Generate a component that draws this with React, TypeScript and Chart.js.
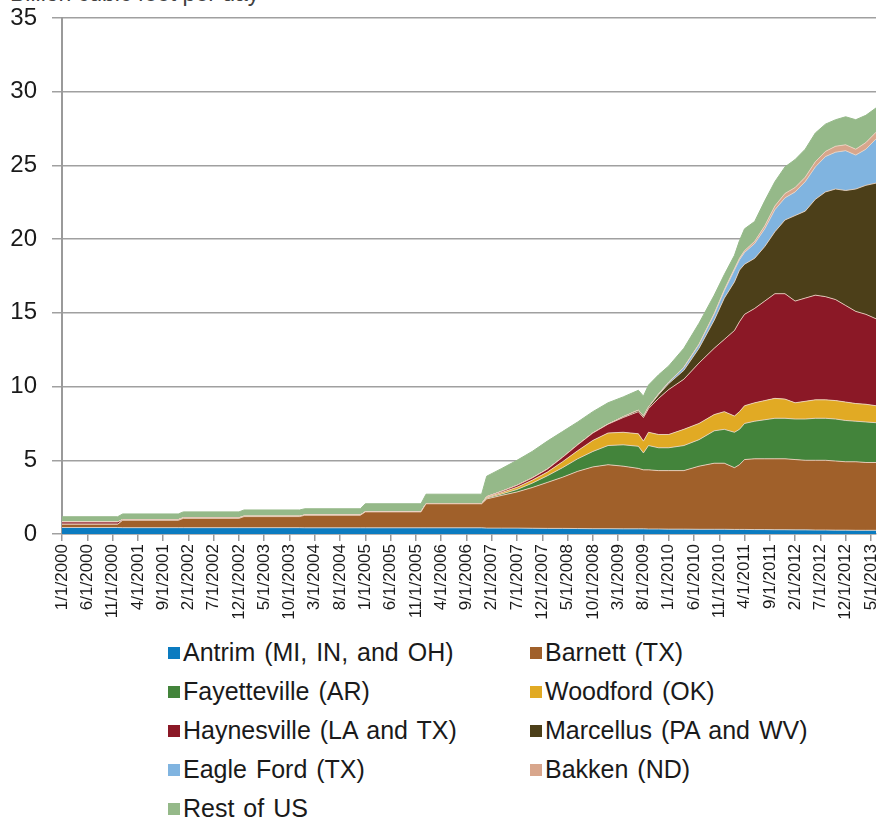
import React, { useEffect, useRef } from "react";
import { Chart, registerables } from "chart.js";

Chart.register(...registerables);

// Sample dates (month starts) at which the series values were read
const sampleDates = [
  "1/1/2000", "12/1/2000", "1/1/2001", "12/1/2001", "1/1/2002", "12/1/2002",
  "1/1/2003", "12/1/2003", "1/1/2004", "12/1/2004", "1/1/2005", "12/1/2005",
  "1/1/2006", "12/1/2006", "1/1/2007", "4/1/2007", "7/1/2007", "10/1/2007",
  "1/1/2008", "4/1/2008", "7/1/2008", "10/1/2008", "1/1/2009", "4/1/2009",
  "7/1/2009", "8/1/2009", "9/1/2009", "11/1/2009", "1/1/2010", "4/1/2010",
  "7/1/2010", "10/1/2010", "12/1/2010", "2/1/2011", "3/1/2011", "4/1/2011",
  "6/1/2011", "8/1/2011", "10/1/2011", "12/1/2011", "2/1/2012", "4/1/2012",
  "6/1/2012", "8/1/2012", "10/1/2012", "12/1/2012", "2/1/2013", "4/1/2013",
  "6/1/2013",
];

const tickLabels = [
  "1/1/2000", "6/1/2000", "11/1/2000", "4/1/2001", "9/1/2001", "2/1/2002",
  "7/1/2002", "12/1/2002", "5/1/2003", "10/1/2003", "3/1/2004", "8/1/2004",
  "1/1/2005", "6/1/2005", "11/1/2005", "4/1/2006", "9/1/2006", "2/1/2007",
  "7/1/2007", "12/1/2007", "5/1/2008", "10/1/2008", "3/1/2009", "8/1/2009",
  "1/1/2010", "6/1/2010", "11/1/2010", "4/1/2011", "9/1/2011", "2/1/2012",
  "7/1/2012", "12/1/2012", "5/1/2013",
];

const yTicks = [0, 5, 10, 15, 20, 25, 30, 35];

// Billion cubic feet per day
const antrim = [
  0.44, 0.44, 0.43, 0.43, 0.43, 0.43, 0.43, 0.43, 0.42, 0.42, 0.42, 0.42, 0.42, 0.42,
  0.40, 0.40, 0.40, 0.39, 0.38, 0.38, 0.37, 0.36, 0.36, 0.35,
  0.35, 0.35, 0.34, 0.34, 0.33, 0.33, 0.32, 0.32, 0.32, 0.31,
  0.31, 0.31, 0.30, 0.30, 0.29, 0.29, 0.28, 0.28, 0.27, 0.27,
  0.26, 0.26, 0.25, 0.25, 0.25,
];
const barnett = [
  0.22, 0.22, 0.50, 0.50, 0.63, 0.63, 0.75, 0.75, 0.85, 0.85, 1.08, 1.08, 1.63, 1.63,
  1.98, 2.22, 2.45, 2.76, 3.12, 3.47, 3.88, 4.19, 4.34, 4.25,
  4.10, 4.00, 4.01, 3.96, 3.97, 3.97, 4.28, 4.48, 4.48, 4.19,
  4.39, 4.74, 4.80, 4.80, 4.81, 4.81, 4.77, 4.72, 4.73, 4.73,
  4.69, 4.64, 4.65, 4.60, 4.60,
];
const fayetteville = [
  0, 0, 0, 0, 0, 0, 0, 0, 0, 0, 0, 0, 0, 0,
  0.06, 0.10, 0.17, 0.30, 0.45, 0.65, 0.85, 1.05, 1.30, 1.45,
  1.50, 1.15, 1.65, 1.55, 1.55, 1.70, 1.80, 2.20, 2.30, 2.40,
  2.40, 2.45, 2.55, 2.65, 2.75, 2.75, 2.75, 2.80, 2.85, 2.85,
  2.85, 2.80, 2.75, 2.75, 2.70,
];
const woodford = [
  0, 0, 0, 0, 0, 0, 0, 0, 0, 0, 0, 0, 0, 0,
  0.05, 0.10, 0.15, 0.20, 0.25, 0.40, 0.55, 0.75, 0.85, 0.85,
  0.85, 0.80, 0.90, 0.90, 0.90, 1.10, 1.10, 1.10, 1.20, 1.10,
  1.20, 1.20, 1.25, 1.30, 1.35, 1.30, 1.10, 1.20, 1.25, 1.25,
  1.25, 1.25, 1.20, 1.20, 1.15,
];
const haynesville = [
  0.16, 0.16, 0.05, 0.05, 0.04, 0.04, 0.03, 0.03, 0.02, 0.02, 0.01, 0.01, 0, 0,
  0.04, 0.08, 0.13, 0.15, 0.20, 0.30, 0.40, 0.50, 0.60, 1.00,
  1.50, 1.60, 1.60, 2.45, 3.05, 3.40, 4.10, 4.50, 4.90, 5.80,
  6.10, 6.20, 6.40, 6.75, 7.10, 7.15, 6.90, 7.00, 7.10, 7.00,
  6.85, 6.55, 6.25, 6.10, 5.90,
];
const marcellus = [
  0, 0, 0, 0, 0, 0, 0, 0, 0, 0, 0, 0, 0, 0,
  0, 0, 0, 0, 0, 0, 0, 0, 0, 0.05,
  0.10, 0.10, 0.10, 0.25, 0.40, 0.60, 1.00, 1.90, 2.80, 3.30,
  3.50, 3.40, 3.40, 3.70, 4.20, 5.00, 5.80, 5.90, 6.50, 7.10,
  7.50, 7.80, 8.30, 8.75, 9.20,
];
const eagleFord = [
  0, 0, 0, 0, 0, 0, 0, 0, 0, 0, 0, 0, 0, 0,
  0, 0, 0, 0, 0, 0, 0, 0, 0, 0,
  0, 0, 0, 0.05, 0.10, 0.20, 0.25, 0.40, 0.50, 0.80,
  0.70, 0.80, 1.00, 1.20, 1.50, 1.50, 1.60, 2.00, 2.20, 2.40,
  2.50, 2.70, 2.30, 2.45, 3.00,
];
const bakken = [
  0, 0, 0, 0, 0, 0, 0, 0, 0, 0, 0, 0, 0, 0,
  0, 0, 0, 0, 0, 0, 0, 0, 0, 0,
  0, 0, 0, 0, 0, 0.02, 0.03, 0.05, 0.07, 0.10,
  0.10, 0.12, 0.15, 0.20, 0.25, 0.30, 0.30, 0.30, 0.35, 0.35,
  0.40, 0.40, 0.40, 0.45, 0.45,
];
const restOfUS = [
  0.35, 0.35, 0.38, 0.38, 0.40, 0.40, 0.42, 0.42, 0.42, 0.42, 0.54, 0.54, 0.65, 0.65,
  1.39, 1.55, 1.70, 1.80, 1.90, 1.75, 1.55, 1.45, 1.45, 1.35,
  1.35, 1.35, 1.50, 1.30, 1.10, 1.28, 1.42, 1.25, 1.03, 0.90,
  1.20, 1.48, 1.35, 1.70, 1.65, 1.80, 1.90, 1.90, 1.95, 1.85,
  1.80, 1.90, 2.00, 1.85, 1.65,
];

const seriesNames = [
  "Antrim (MI, IN, and OH)",
  "Barnett (TX)",
  "Fayetteville (AR)",
  "Woodford (OK)",
  "Haynesville (LA and TX)",
  "Marcellus (PA and WV)",
  "Eagle Ford (TX)",
  "Bakken (ND)",
  "Rest of US",
];
const seriesValues = [
  antrim, barnett, fayetteville, woodford, haynesville, marcellus, eagleFord, bakken, restOfUS,
];
const seriesColors = [
  "#0b7bc0", "#a0602a", "#43843b", "#e1aa24", "#8b1826",
  "#4c3f19", "#80b4e0", "#d8a68c", "#95b989",
];

const toMonth = (d: string) => {
  const parts = d.split("/").map(Number);
  return (parts[2] - 2000) * 12 + (parts[0] - 1);
};

const FONT = "'Liberation Sans', Arial, sans-serif";

export default function App() {
  const ref = useRef<HTMLCanvasElement | null>(null);

  useEffect(() => {
    if (!ref.current) return;
    const xs = sampleDates.map(toMonth);
    const datasets = seriesValues.map((vals, si) => ({
      label: seriesNames[si],
      data: vals.map((v, i) => ({ x: xs[i], y: v })),
      backgroundColor: seriesColors[si],
      borderColor: si === 8 ? seriesColors[si] : "rgba(236,214,196,0.85)",
      borderWidth: 1,
      fill: si === 0 ? "origin" : "-1",
      pointRadius: 0,
      tension: 0,
    }));
    const chart = new Chart(ref.current, {
      type: "line",
      data: { datasets: datasets as any },
      options: {
        animation: false,
        responsive: false,
        maintainAspectRatio: false,
        layout: { padding: { top: 18, left: 0, right: 1, bottom: 0 } },
        plugins: { legend: { display: false }, tooltip: { enabled: false } },
        scales: {
          x: {
            type: "linear",
            min: 0,
            max: toMonth(sampleDates[sampleDates.length - 1]),
            afterBuildTicks: (scale: any) => {
              scale.ticks = tickLabels.map((l) => ({ value: toMonth(l) }));
            },
            afterFit: (scale: any) => {
              scale.height = 96;
              scale.paddingLeft = 0;
              scale.paddingRight = 0;
            },
            ticks: {
              autoSkip: false,
              maxRotation: 90,
              minRotation: 90,
              padding: 3,
              color: "#1a1a1a",
              font: { family: FONT, size: 17 },
              callback: (_v: any, i: number) => tickLabels[i],
            },
            grid: {
              drawOnChartArea: false,
              drawTicks: true,
              tickLength: 7,
              color: "#9a9a9a",
              lineWidth: 1.5,
            },
            border: { display: true, color: "#9a9a9a", width: 1.5 },
          },
          y: {
            stacked: true,
            min: 0,
            max: 35,
            afterBuildTicks: (scale: any) => {
              scale.ticks = yTicks.map((v) => ({ value: v }));
            },
            afterFit: (scale: any) => {
              scale.width = 62;
              scale.paddingTop = 0;
              scale.paddingBottom = 0;
            },
            ticks: {
              padding: 15,
              color: "#1a1a1a",
              font: { family: FONT, size: 24 },
            },
            grid: {
              color: "#a0a0a0",
              lineWidth: 1.5,
              tickLength: 10,
            },
            border: { display: true, color: "#9a9a9a", width: 2 },
          },
        },
      },
    });
    return () => chart.destroy();
  }, []);

  return (
    <div style={{ position: "absolute", left: 0, top: 0, width: 877, height: 819, overflow: "hidden", background: "#fff", fontFamily: FONT }}>
      <div style={{ position: "absolute", left: 10, top: -18, fontSize: 23, lineHeight: "23px", color: "#404040", whiteSpace: "nowrap" }}>
        Billion cubic feet per day
      </div>
      <canvas ref={ref} width={877} height={630} style={{ position: "absolute", left: 0, top: 0 }} />
      <div
        style={{
          position: "absolute",
          left: 168,
          top: 633,
          display: "grid",
          gridTemplateColumns: "362px auto",
          gridAutoRows: "39px",
          fontSize: 25,
          wordSpacing: 2,
          color: "#1a1a1a",
        }}
      >
        {seriesNames.map((n, i) => (
          <div key={n} style={{ display: "flex", alignItems: "center", whiteSpace: "nowrap" }}>
            <span style={{ display: "inline-block", width: 12, height: 12, background: seriesColors[i], marginRight: 3 }} />
            <span>{n}</span>
          </div>
        ))}
      </div>
    </div>
  );
}
